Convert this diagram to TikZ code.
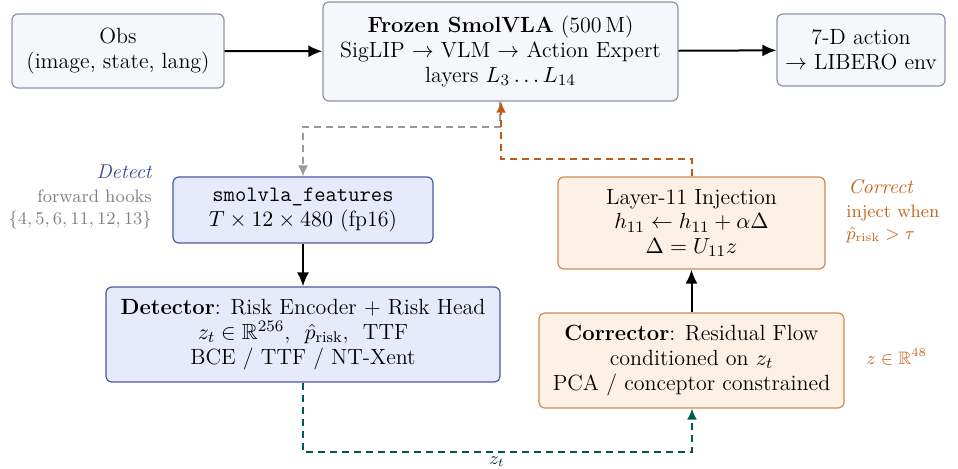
\documentclass[tikz,border=0pt]{standalone}
\usepackage{amsmath,amssymb}
\usetikzlibrary{arrows.meta}
\definecolor{grayfill}{HTML}{F5F7FA}
\definecolor{grayline}{HTML}{8A94A8}
\definecolor{bluefill}{HTML}{E7EAFA}
\definecolor{blueline}{HTML}{4A58A8}
\definecolor{orfill}{HTML}{FDF0E4}
\definecolor{orline}{HTML}{D08A50}
\definecolor{orarrow}{HTML}{C05A14}
\definecolor{teal2}{HTML}{005A50}
\definecolor{dashgray}{HTML}{9A9A9A}
\definecolor{detblue}{HTML}{3A4A9A}
\definecolor{sidegray}{HTML}{808080}
\definecolor{sideor}{HTML}{C8641E}
\begin{document}
\begin{tikzpicture}[x=0.5pt,y=-0.5pt,
  box/.style={draw, rounded corners=3pt, align=center, inner sep=2pt, line width=0.6pt,
    font=\fontsize{11}{12.4}\selectfont},
  graybox/.style={box, fill=grayfill, draw=grayline},
  bluebox/.style={box, fill=bluefill, draw=blueline},
  orbox/.style={box, fill=orfill, draw=orline},
  arr/.style={-{Latex[length=7pt,width=6pt]}, line width=1pt},
  dasharr/.style={-{Latex[length=5.5pt,width=5pt]}, line width=0.8pt, dash pattern=on 3.5pt off 2.5pt}
]
\useasboundingbox (0,0) rectangle (958,469);

\node[graybox, minimum width=106pt, minimum height=37pt] (obs) at (118,51)
  {Obs\\(image, state, lang)};
\node[graybox, minimum width=177.5pt, minimum height=49.5pt] (vla) at (500.5,51.5)
  {\textbf{Frozen SmolVLA} (500\,M)\\SigLIP $\to$ VLM $\to$ Action Expert\\layers $L_3\ldots L_{14}$};
\node[graybox, minimum width=84pt, minimum height=36pt] (act) at (861,50)
  {7-D action\\$\to$ LIBERO env};

\node[bluebox, minimum width=130pt, minimum height=33pt] (feat) at (303,210)
  {\texttt{smolvla\_features}\\$T\times 12\times 480$ (fp16)};
\node[bluebox, minimum width=197pt, minimum height=47.5pt] (det) at (303,334.5)
  {\textbf{Detector}: Risk Encoder + Risk Head\\$z_t\in\mathbb{R}^{256}$,\ \ $\hat{p}_{\text{risk}}$,\ \ TTF\\BCE / TTF / NT-Xent};

\node[orbox, minimum width=133.5pt, minimum height=46pt] (inj) at (691.5,223)
  {Layer-11 Injection\\$h_{11}\leftarrow h_{11}+\alpha\Delta$\\$\Delta=U_{11}z$};
\node[orbox, minimum width=152.5pt, minimum height=47.5pt] (cor) at (691.5,360.5)
  {\textbf{Corrector}: Residual Flow\\conditioned on $z_t$\\PCA / conceptor constrained};

\draw[arr] (obs) -- (vla);
\draw[arr] (vla) -- (act);
\draw[arr] (feat) -- (det);
\draw[arr] (cor) -- (inj);

\coordinate (g1) at (500,127);
\coordinate (g2) at (303,127);
\draw[dasharr, draw=dashgray] (vla.south -| g1) -- (g1) -- (g2) -- (feat.north);

\coordinate (o1) at (692,159);
\coordinate (o2) at (501,159);
\draw[dasharr, draw=orarrow, line width=1pt] (inj.north -| o1) -- (o1) -- (o2) -- (vla.south -| o2);

\coordinate (t1) at (303,452);
\coordinate (t2) at (692,452);
\draw[dasharr, draw=teal2, line width=1pt] (det.south -| t1) -- (t1) -- (t2) -- (cor.south -| t2);
\node[font=\small, text=teal2!60!black, inner sep=0pt] (zt) at (497,462) {$z_t$};

\node[font=\normalsize\itshape, text=detblue, anchor=east, inner sep=0pt] (dl) at (152,172) {Detect};
\node[font=\small, text=sidegray, anchor=east, align=right, inner sep=0pt] (dh) at (152,209)
  {forward hooks\\$\{4,5,6,11,12,13\}$};

\node[font=\normalsize\itshape, text=sideor, anchor=west, inner sep=0pt] (cl) at (848,187) {Correct};
\node[font=\small, text=sideor, anchor=west, align=left, inner sep=0pt] (ch) at (846,224)
  {inject when\\$\hat{p}_{\text{risk}}>\tau$};

\node[font=\small, text=sideor, anchor=west, inner sep=0pt] (zr) at (866,357) {$z\in\mathbb{R}^{48}$};
\end{tikzpicture}
\end{document}
